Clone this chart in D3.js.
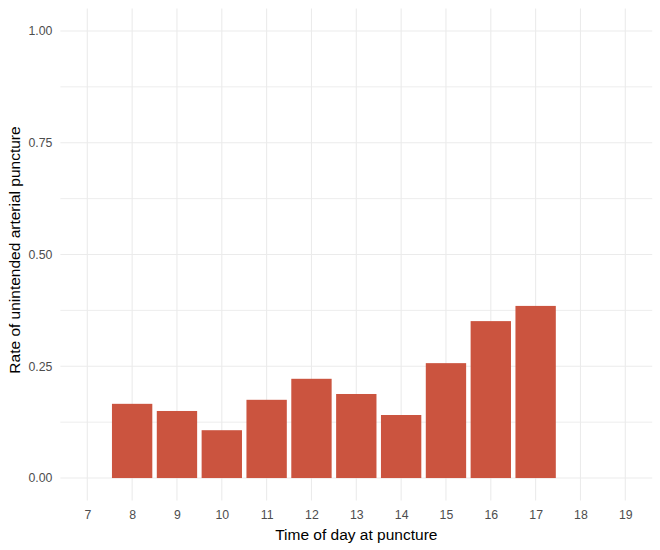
<!DOCTYPE html>
<html lang="en">
<head>
<meta charset="UTF-8">
<title>Rate of unintended arterial puncture by hour</title>
<script src="https://d3js.org/d3.v7.min.js"></script>
<style>
  body { margin: 0; background: #fff; }
  svg text { font-family: 'Liberation Sans', Arial, Helvetica, sans-serif !important; }
</style>
</head>
<body>
<div id="chart"></div>
<script>
// hour of day and rate
const hours = [8, 9, 10, 11, 12, 13, 14, 15, 16, 17];
const rates = [0.166, 0.150, 0.107, 0.175, 0.222, 0.188, 0.141, 0.257, 0.351, 0.385];
const xTicks = [7, 8, 9, 10, 11, 12, 13, 14, 15, 16, 17, 18, 19];
const yTicks = [0, 0.25, 0.5, 0.75, 1];
const yMinor = [0.125, 0.375, 0.625, 0.875];

const W = 660, H = 550;
// panel edges in pixels
const panel = {left: 60.4, right: 652.2, top: 8.6, bottom: 500.4};

const svg = d3.select("#chart").append("svg")
    .attr("width", W).attr("height", H);

// ggplot style: 5% expansion on both continuous axes
const x = d3.scaleLinear().domain([6.4, 19.6]).range([panel.left, panel.right]);
const y = d3.scaleLinear().domain([-0.05, 1.05]).range([panel.bottom, panel.top]);

const grid = svg.append("g").attr("stroke", "#ebebeb");

// minor horizontal lines
grid.selectAll(".minor").data(yMinor).enter().append("line")
    .attr("x1", panel.left).attr("x2", panel.right)
    .attr("y1", d => y(d)).attr("y2", d => y(d))
    .attr("stroke-width", 0.9);

// major lines
grid.selectAll(".hmaj").data(yTicks).enter().append("line")
    .attr("x1", panel.left).attr("x2", panel.right)
    .attr("y1", d => y(d)).attr("y2", d => y(d))
    .attr("stroke-width", 1.1);

grid.selectAll(".vmaj").data(xTicks).enter().append("line")
    .attr("y1", panel.top).attr("y2", panel.bottom)
    .attr("x1", d => x(d)).attr("x2", d => x(d))
    .attr("stroke-width", 1.1);

// bars, 0.9 of a unit wide
svg.append("g").selectAll("rect")
    .data(hours.map((h, i) => ({h: h, r: rates[i]})))
    .enter().append("rect")
    .attr("x", d => x(d.h - 0.45))
    .attr("width", x(0.9) - x(0))
    .attr("y", d => y(d.r))
    .attr("height", d => y(0) - y(d.r))
    .attr("fill", "#cb543f");

// axes without lines, just labels
const xAxis = svg.append("g")
    .attr("transform", `translate(0,${panel.bottom})`)
    .call(d3.axisBottom(x).tickValues(xTicks).tickSize(0).tickPadding(10).tickFormat(d3.format("d")));
xAxis.select(".domain").remove();
xAxis.attr("font-family", null).attr("font-size", null);
xAxis.selectAll("text").attr("fill", "#4d4d4d").style("font-size", "12.3px");

const yAxis = svg.append("g")
    .attr("transform", `translate(${panel.left},0)`)
    .call(d3.axisLeft(y).tickValues(yTicks).tickSize(0).tickPadding(8).tickFormat(d3.format(".2f")));
yAxis.select(".domain").remove();
yAxis.attr("font-family", null).attr("font-size", null);
yAxis.selectAll("text").attr("fill", "#4d4d4d").style("font-size", "12.3px");

// titles
svg.append("text")
    .attr("x", (panel.left + panel.right) / 2)
    .attr("y", 539.5)
    .attr("text-anchor", "middle")
    .style("font-size", "15.5px")
    .attr("fill", "#000")
    .text("Time of day at puncture");

svg.append("text")
    .attr("transform", `translate(19.5,250) rotate(-90)`)
    .attr("text-anchor", "middle")
    .style("font-size", "15.5px")
    .attr("fill", "#000")
    .text("Rate of unintended arterial puncture");
</script>
</body>
</html>
